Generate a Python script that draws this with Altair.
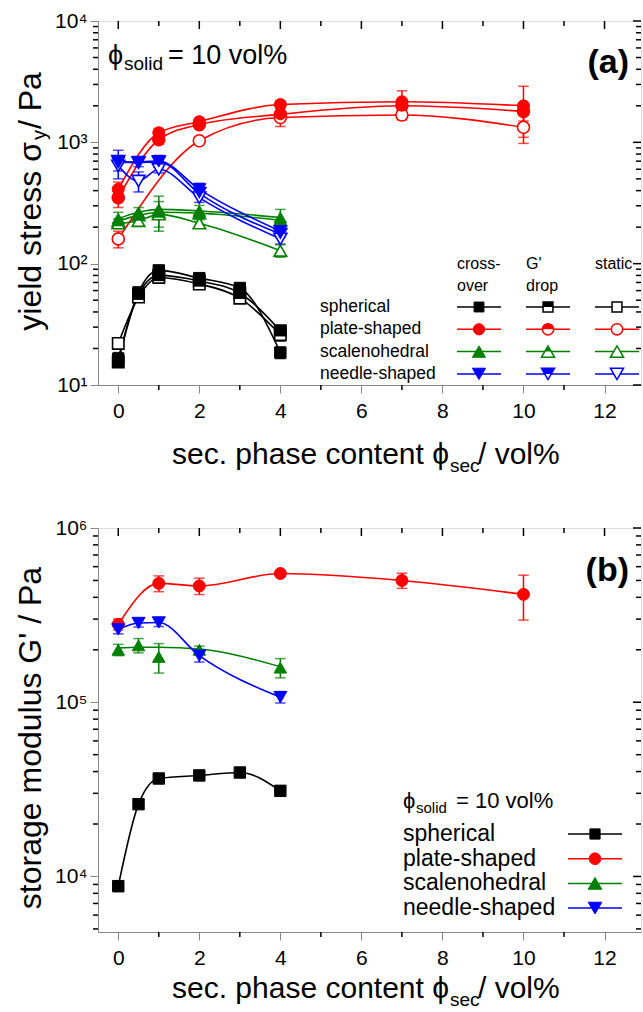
import altair as alt
import pandas as pd

FONT = "Liberation Sans"
types = ["spherical", "plate-shaped", "scalenohedral", "needle-shaped"]
colors = ["#000000", "#ff0000", "#008000", "#0000ff"]
shapes = ["square", "circle", "triangle-up", "triangle-down"]
half_shapes = ["M-1,-1L1,-1L1,0L-1,0Z", "M-1,0A1,1 0 0 1 1,0Z",
               "M0,-0.866L0.5,0L-0.5,0Z", "M-1,-0.866L1,-0.866L0.5,0L-0.5,0Z"]
sizes = [130, 170, 230, 230]
methods = ["cross-over", "G' drop", "static"]

# ---------------- panel (a): yield stress ----------------
x_sph = [0, 0.5, 1, 2, 3, 4]
a_sph_cross = [16.5, 58, 88, 76, 63, 18.5]
a_sph_gdrop = [15.5, 56, 80, 72, 57, 28]
a_sph_static = [22, 53, 77, 68, 52, 26]
e_sph_cross = [2, 3, 4, 4, 5, 2]
e_sph_gdrop = [1, 3, 0, 6, 0, 2]
e_sph_static = [2, 0, 0, 5, 0, 3]

x_pl = [0, 1, 2, 4, 7, 10]
x_pl_static = [0, 2, 4, 7, 10]
a_pl_cross = [410, 1200, 1480, 2050, 2160, 2000]
a_pl_gdrop = [350, 1050, 1400, 1700, 2000, 1800]
a_pl_static = [160, 1030, 1600, 1680, 1330]
e_pl_cross = [60, 100, 100, 150, 500, 900]
e_pl_gdrop = [60, 80, 0, 350, 200, 300]
e_pl_static = [25, 0, 100, 150, 350]

x_sc = [0, 0.5, 1, 2, 4]
a_sc_cross = [235, 265, 280, 272, 240]
a_sc_gdrop = [225, 250, 265, 260, 228]
a_sc_static = [215, 225, 255, 215, 128]
e_sc_cross = [30, 25, 80, 30, 40]
e_sc_gdrop = [0, 0, 0, 0, 0]
e_sc_static = [20, 20, 70, 15, 15]

x_nd = [0, 0.5, 1, 2, 4]
a_nd_cross = [680, 690, 700, 410, 185]
a_nd_gdrop = [700, 680, 690, 380, 175]
a_nd_static = [640, 480, 600, 350, 160]
e_nd_cross = [180, 60, 80, 50, 20]
e_nd_gdrop = [0, 0, 0, 0, 0]
e_nd_static = [60, 90, 40, 30, 15]

# ---------------- panel (b): storage modulus ----------------
b_sph = [8800, 26000, 36500, 38000, 39500, 31000]
e_b_sph = [600, 1500, 2000, 2000, 2000, 2000]
b_pl = [280000, 481000, 465000, 548000, 500000, 416000]
e_b_pl = [20000, 50000, 50000, 20000, 50000, 120000]
b_sc = [200000, 212000, 182000, 200000, 158000]
b_sc_fit = [205000, 207000, 207000, 202000, 160000]
e_b_sc = [15000, 20000, 35000, 10000, 20000]
b_nd = [262000, 285000, 287000, 185000, 107000]
e_b_nd = [15000, 15000, 15000, 15000, 8000]

x_major = [0, 2, 4, 6, 8, 10, 12]
x_minor = [1, 3, 5, 7, 9, 11]


def rows(t, m, xs, ys, es, fit=None):
    fit = fit or ys
    return [dict(type=t, method=m, x=a, y=b, err=e, lo=b - e, hi=b + e, yl=f)
            for a, b, e, f in zip(xs, ys, es, fit)]


rows_a = (rows(types[0], methods[0], x_sph, a_sph_cross, e_sph_cross)
          + rows(types[0], methods[1], x_sph, a_sph_gdrop, e_sph_gdrop)
          + rows(types[0], methods[2], x_sph, a_sph_static, e_sph_static)
          + rows(types[1], methods[0], x_pl, a_pl_cross, e_pl_cross)
          + rows(types[1], methods[1], x_pl, a_pl_gdrop, e_pl_gdrop)
          + rows(types[1], methods[2], x_pl_static, a_pl_static, e_pl_static)
          + rows(types[2], methods[0], x_sc, a_sc_cross, e_sc_cross)
          + rows(types[2], methods[1], x_sc, a_sc_gdrop, e_sc_gdrop)
          + rows(types[2], methods[2], x_sc, a_sc_static, e_sc_static)
          + rows(types[3], methods[0], x_nd, a_nd_cross, e_nd_cross)
          + rows(types[3], methods[1], x_nd, a_nd_gdrop, e_nd_gdrop)
          + rows(types[3], methods[2], x_nd, a_nd_static, e_nd_static))
df_a = pd.DataFrame(rows_a)

rows_b = (rows(types[0], methods[0], x_sph, b_sph, e_b_sph)
          + rows(types[1], methods[0], x_pl, b_pl, e_b_pl)
          + rows(types[2], methods[0], x_sc, b_sc, e_b_sc, b_sc_fit)
          + rows(types[3], methods[0], x_nd, b_nd, e_b_nd))
df_b = pd.DataFrame(rows_b)

W = 543
XSCALE = alt.Scale(domain=[-0.5, 12.9], nice=False, zero=False)
SUP = "['⁰','¹','²','³','⁴','⁵','⁶'][round(log(datum.value)/LN10)]"
col_scale = alt.Scale(domain=types, range=colors)
shape_scale = alt.Scale(domain=types, range=shapes)
half_scale = alt.Scale(domain=types, range=half_shapes)
size_scale = alt.Scale(domain=types, range=sizes)


def panel(df, H, ydom, decades, texts):
    yscale = alt.Scale(type="log", domain=ydom, nice=False)
    xaxis = alt.Axis(values=x_major, title=None, labelFontSize=21, tickSize=8,
                     labelPadding=7, grid=False, labelFont=FONT)
    yaxis = alt.Axis(values=decades, title=None, labelFontSize=21, tickSize=8,
                     labelPadding=3, grid=False, labelFont=FONT,
                     labelExpr="'10' + " + SUP)

    def X(f):
        return alt.X(f, type="quantitative", scale=XSCALE, axis=xaxis)

    def Y(f):
        return alt.Y(f, type="quantitative", scale=yscale, axis=yaxis)

    minors_y = [m * d for d in decades for m in range(2, 10)
                if ydom[0] <= m * d <= ydom[1]]
    minors_y += [m * decades[0] / 10 for m in range(2, 10)
                 if ydom[0] <= m * decades[0] / 10 <= ydom[1]]
    dmy = pd.DataFrame({"v": minors_y})
    dMy = pd.DataFrame({"v": decades})
    dmx = pd.DataFrame({"v": x_minor})
    dMx = pd.DataFrame({"v": x_major})

    layers = []
    tick = dict(color="black", strokeWidth=1.5)
    layers.append(alt.Chart(dmx).mark_rule(**tick).encode(
        x=X("v"), y=alt.value(H), y2=alt.value(H + 5)))
    layers.append(alt.Chart(dmx).mark_rule(**tick).encode(
        x=X("v"), y=alt.value(0), y2=alt.value(5)))
    layers.append(alt.Chart(dMx).mark_rule(**tick).encode(
        x=X("v"), y=alt.value(0), y2=alt.value(8)))
    layers.append(alt.Chart(dmy).mark_rule(**tick).encode(
        y=Y("v"), x=alt.value(0), x2=alt.value(-5)))
    layers.append(alt.Chart(dmy).mark_rule(**tick).encode(
        y=Y("v"), x=alt.value(W), x2=alt.value(W - 5)))
    layers.append(alt.Chart(dMy).mark_rule(**tick).encode(
        y=Y("v"), x=alt.value(W), x2=alt.value(W - 8)))

    enc_c = dict(color=alt.Color("type:N", scale=col_scale, legend=None))
    layers.append(alt.Chart(df).mark_line(strokeWidth=1.6, interpolate="monotone").encode(
        x=X("x"), y=Y("yl"), detail="method:N", **enc_c))
    eb = df[df.err > 0]
    layers.append(alt.Chart(eb).mark_rule(strokeWidth=1.5).encode(
        x=X("x"), y=Y("lo"), y2="hi", **enc_c))
    caps = pd.concat([eb.assign(c=eb.lo), eb.assign(c=eb.hi)])
    layers.append(alt.Chart(caps).mark_point(shape="stroke", size=110, strokeWidth=1.5).encode(
        x=X("x"), y=Y("c"), stroke=alt.Stroke("type:N", scale=col_scale, legend=None)))

    common = dict(x=X("x"), y=Y("y"),
                  size=alt.Size("type:N", scale=size_scale, legend=None))
    d_open = df[df.method != methods[0]]
    d_half = df[df.method == methods[1]]
    d_full = df[df.method == methods[0]]
    if len(d_open):
        layers.append(alt.Chart(d_open).mark_point(fill="white", filled=False, strokeWidth=1.6, opacity=1).encode(
            shape=alt.Shape("type:N", scale=shape_scale, legend=None),
            stroke=alt.Stroke("type:N", scale=col_scale, legend=None), **common))
    if len(d_half):
        layers.append(alt.Chart(d_half).mark_point(filled=True, opacity=1, strokeWidth=0).encode(
            shape=alt.Shape("type:N", scale=half_scale, legend=None),
            fill=alt.Fill("type:N", scale=col_scale, legend=None), **common))
    layers.append(alt.Chart(d_full).mark_point(filled=True, opacity=1, strokeWidth=1).encode(
        shape=alt.Shape("type:N", scale=shape_scale, legend=None),
        fill=alt.Fill("type:N", scale=col_scale, legend=None),
        stroke=alt.Stroke("type:N", scale=col_scale, legend=None), **common))

    one = pd.DataFrame({"a": [0]})
    for (txt, px, py, fs, extra) in texts:
        props = dict(font=FONT, fontSize=fs, color="black", baseline="middle", align="left")
        props.update(extra)
        layers.append(alt.Chart(one).mark_text(text=txt, **props).encode(
            x=alt.value(px), y=alt.value(py)))
    return layers


def legend_sym(px, py, k, kind, half_len, size_mul=1.0):
    one = pd.DataFrame({"a": [0]})
    out = [alt.Chart(one).mark_rule(color=colors[k], strokeWidth=1.5).encode(
        x=alt.value(px - half_len), x2=alt.value(px + half_len), y=alt.value(py))]
    sz = sizes[k] * size_mul
    if kind == 0:
        out.append(alt.Chart(one).mark_point(shape=shapes[k], filled=True, fill=colors[k],
                                              stroke=colors[k], strokeWidth=1, size=sz, opacity=1).encode(
            x=alt.value(px), y=alt.value(py)))
    else:
        out.append(alt.Chart(one).mark_point(shape=shapes[k], filled=False, fill="white",
                                              stroke=colors[k], strokeWidth=1.5, size=sz, opacity=1).encode(
            x=alt.value(px), y=alt.value(py)))
        if kind == 1:
            out.append(alt.Chart(one).mark_point(shape=half_shapes[k], filled=True, fill=colors[k],
                                                  strokeWidth=0, size=sz, opacity=1).encode(
                x=alt.value(px), y=alt.value(py)))
    return out


def x_title(ty):
    xs = 351
    return [
        ("sec. phase content ϕ", xs, ty, 30, {"align": "right"}),
        ("sec", xs + 1, ty + 11, 19, {}),
        (" / vol%", xs + 29, ty, 30, {}),
    ]


# ---- Panel A ----
HA = 364
texts_a = x_title(HA + 70)
texts_a += [
    ("yield stress σ", -67, 121, 32, {"angle": 270, "align": "right"}),
    ("y", -58, 119, 20, {"angle": 270, "align": "left"}),
    ("  / Pa", -67, 108, 32, {"angle": 270, "align": "left"}),
    ("ϕ", 10, 35, 27, {}),
    ("solid", 26, 43, 19, {}),
    ("= 10 vol%", 70, 35, 27, {}),
    ("(a)", 531, 42, 34, {"align": "right", "fontWeight": "bold"}),
    ("cross-", 359, 243, 16, {}),
    ("over", 359, 265, 16, {}),
    ("G'", 428, 243, 16, {}),
    ("drop", 428, 265, 16, {}),
    ("static", 497, 243, 16, {}),
]
row_y_a = [286 + 22.3 * i for i in range(4)]
for i, t in enumerate(types):
    texts_a.append((t, 222, row_y_a[i], 17.5, {}))
layers_a = panel(df_a, HA, [10, 10000], [10, 100, 1000, 10000], texts_a)
for i in range(4):
    for j, cx in enumerate([381, 450, 519]):
        layers_a += legend_sym(cx, row_y_a[i], i, j, 22, 0.75)
chart_a = alt.layer(*layers_a).properties(width=W, height=HA)

# ---- Panel B ----
HB = 404
texts_b = x_title(HB + 57)
texts_b += [
    ("storage modulus G' / Pa", -67, 210, 32, {"angle": 270, "align": "center"}),
    ("ϕ", 305, 273, 22, {}),
    ("solid", 318, 280, 15, {}),
    ("= 10 vol%", 358, 273, 22, {}),
    ("(b)", 531, 43, 34, {"align": "right", "fontWeight": "bold"}),
]
row_y_b = [306 + 24.7 * i for i in range(4)]
for i, t in enumerate(types):
    texts_b.append((t, 305, row_y_b[i], 23, {}))
layers_b = panel(df_b, HB, [4800, 1000000], [10000, 100000, 1000000], texts_b)
for i in range(4):
    layers_b += legend_sym(497, row_y_b[i], i, 0, 27, 0.8)
chart_b = alt.layer(*layers_b).properties(width=W, height=HB)

chart = alt.vconcat(chart_a, chart_b, spacing=143, bounds="flush").properties(
    padding={"left": 14, "top": 9, "right": 0, "bottom": 0}
).configure_view(stroke="black", strokeWidth=1.5).configure_axis(
    domainColor="black", tickColor="black", labelColor="black", domainWidth=1.5, tickWidth=1.5
).configure(background="white")

chart.save("out.html", embed_options={"renderer": "svg", "actions": False})
